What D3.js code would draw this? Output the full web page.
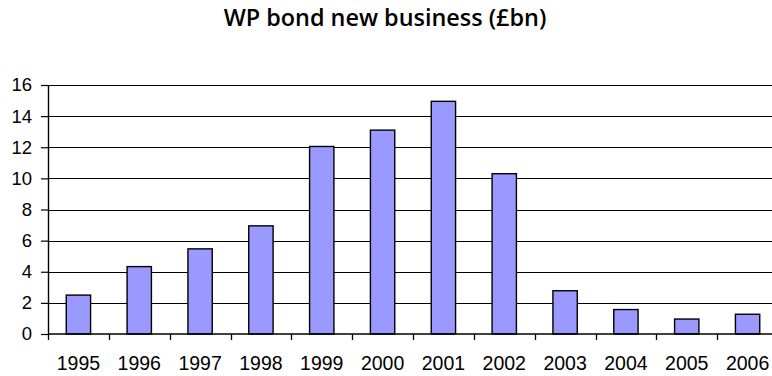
<!DOCTYPE html>
<html>
<head>
<meta charset="utf-8">
<script src="https://cdn.jsdelivr.net/npm/d3@7"></script>
<style>
  body { margin: 0; background: #fff; }
  svg { display: block; }
</style>
</head>
<body>
<div id="chart"></div>
<script>
const years = ["1995", "1996", "1997", "1998", "1999", "2000", "2001", "2002", "2003", "2004", "2005", "2006"];
const values = [2.5, 4.33, 5.47, 6.95, 12.05, 13.1, 14.95, 10.3, 2.78, 1.57, 0.96, 1.27];
const yTicks = [0, 2, 4, 6, 8, 10, 12, 14, 16];
const title = "WP bond new business (£bn)";

const W = 772, H = 376;
const margin = {top: 85, right: -6, bottom: 42, left: 48};
const width = W - margin.left - margin.right;
const height = H - margin.top - margin.bottom;
const labelFont = "'Liberation Sans', Arial, sans-serif";

const svg = d3.select("#chart").append("svg")
    .attr("width", W)
    .attr("height", H);

let titleText = svg.append("text")
    .attr("x", 385)
    .attr("y", 26)
    .attr("text-anchor", "middle")
    .style("font-family", "'Open Sans', sans-serif")
    .style("font-weight", 600)
    .style("font-size", "19px")
    .style("fill", "#000")
    .text(title);
// fit the title to the width it has in the picture
let tw = titleText.node().getComputedTextLength();
titleText.style("font-size", (19 * 323 / tw) + "px");

const g = svg.append("g")
    .attr("transform", "translate(" + margin.left + "," + margin.top + ")");

let x = d3.scaleBand().domain(years).range([0, width]).paddingInner(0.6).paddingOuter(0.3);
let y = d3.scaleLinear().domain([0, 16]).range([height, 0]);

// gridlines
g.append("g")
    .selectAll("line")
    .data(yTicks.filter(d => d > 0))
    .enter().append("line")
    .attr("x1", 0)
    .attr("x2", width)
    .attr("y1", d => Math.round(y(d)) + 0.5)
    .attr("y2", d => Math.round(y(d)) + 0.5)
    .attr("stroke", "#000")
    .attr("stroke-width", 1);

// bars
g.append("g")
    .selectAll("rect")
    .data(values)
    .enter().append("rect")
    .attr("x", (d, i) => x(years[i]))
    .attr("y", d => y(d))
    .attr("width", x.bandwidth())
    .attr("height", d => height - y(d))
    .attr("fill", "#9999ff")
    .attr("stroke", "#000")
    .attr("stroke-width", 1.4);

// y axis
const yAxis = g.append("g")
    .call(d3.axisLeft(y).tickValues(yTicks).tickSize(7).tickPadding(9).tickSizeOuter(0));
yAxis.select(".domain").attr("stroke", "#000").attr("stroke-width", 1.4);
yAxis.selectAll("line").attr("stroke-width", 1.2);
yAxis.selectAll("text")
    .style("font-family", labelFont)
    .style("font-size", "18.5px")
    .attr("fill", "#000");

// x axis with ticks between categories
const xEdge = d3.scaleLinear().domain([0, years.length]).range([0, width]);
const xAxis = g.append("g")
    .attr("transform", "translate(0," + height + ")");
xAxis.append("line")
    .attr("x1", 0).attr("x2", width)
    .attr("y1", 0).attr("y2", 0)
    .attr("stroke", "#000").attr("stroke-width", 1.4);
xAxis.selectAll(".tick")
    .data(d3.range(years.length + 1))
    .enter().append("line")
    .attr("class", "tick")
    .attr("x1", d => Math.round(xEdge(d)) + 0.5)
    .attr("x2", d => Math.round(xEdge(d)) + 0.5)
    .attr("y1", 0).attr("y2", 6)
    .attr("stroke", "#000").attr("stroke-width", 1.3);
xAxis.selectAll(".label")
    .data(years)
    .enter().append("text")
    .attr("class", "label")
    .attr("x", d => x(d) + x.bandwidth() / 2)
    .attr("y", 36)
    .attr("text-anchor", "middle")
    .style("font-family", labelFont)
    .style("font-size", "19.5px")
    .text(d => d);
</script>
</body>
</html>
